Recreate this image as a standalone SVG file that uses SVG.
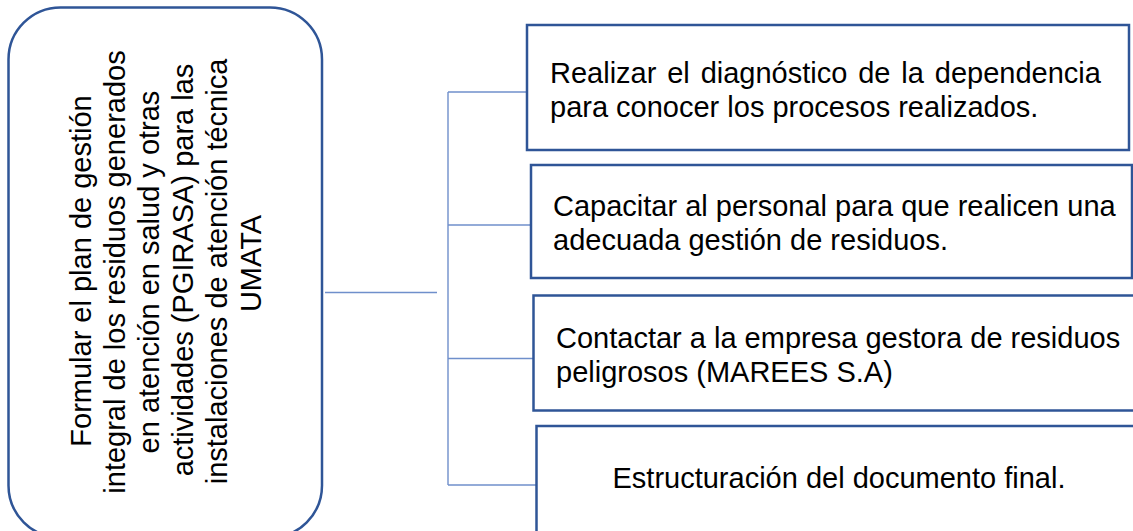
<svg xmlns="http://www.w3.org/2000/svg" width="1133" height="531" viewBox="0 0 1133 531">
  <style>
    .box { fill: #ffffff; stroke: #2F5597; stroke-width: 2.5; }
    .conn { fill: none; stroke: #6F8FCB; stroke-width: 1.4; }
    .t { font-family: "Liberation Sans", Arial, sans-serif; font-size: 29px; fill: #000000; }
    .c { text-anchor: middle; }
  </style>
  <rect width="1133" height="531" fill="#ffffff"/>
  <g id="connectors">
    <line class="conn" x1="325" y1="292.5" x2="437" y2="292.5"/>
    <line class="conn" x1="448" y1="92" x2="448" y2="485"/>
    <line class="conn" x1="448" y1="92" x2="527" y2="92"/>
    <line class="conn" x1="448" y1="225" x2="531" y2="225"/>
    <line class="conn" x1="448" y1="358.5" x2="533" y2="358.5"/>
    <line class="conn" x1="448" y1="485" x2="536" y2="485"/>
  </g>
  <g id="main">
    <rect class="box" x="8.5" y="7.5" width="313.5" height="530" rx="52" ry="52"/>
    <text class="t c" transform="translate(91,271) rotate(-90)">Formular el plan de gestión</text>
    <text class="t c" transform="translate(125,272) rotate(-90)">integral de los residuos generados</text>
    <text class="t c" transform="translate(159,272) rotate(-90)">en atención en salud y otras</text>
    <text class="t c" transform="translate(193,270) rotate(-90)">actividades (PGIRASA) para las</text>
    <text class="t c" transform="translate(227,271.5) rotate(-90)">instalaciones de atención técnica</text>
    <text class="t c" transform="translate(261,263.5) rotate(-90)">UMATA</text>
  </g>
  <g id="step1">
    <rect class="box" x="527" y="25" width="602" height="125"/>
    <text class="t" x="550" y="83" word-spacing="2.8">Realizar el diagnóstico de la dependencia</text>
    <text class="t" x="550" y="117">para conocer los procesos realizados.</text>
  </g>
  <g id="step2">
    <rect class="box" x="531" y="165" width="601" height="113"/>
    <text class="t" x="553" y="216">Capacitar al personal para que realicen una</text>
    <text class="t" x="553" y="250">adecuada gestión de residuos.</text>
  </g>
  <g id="step3">
    <rect class="box" x="533.5" y="295.5" width="605" height="115"/>
    <text class="t" x="556" y="348">Contactar a la empresa gestora de residuos</text>
    <text class="t" x="556" y="382">peligrosos (MAREES S.A)</text>
  </g>
  <g id="step4">
    <rect class="box" x="536.5" y="426" width="605" height="120"/>
    <text class="t c" x="839" y="488">Estructuración del documento final.</text>
  </g>
</svg>
